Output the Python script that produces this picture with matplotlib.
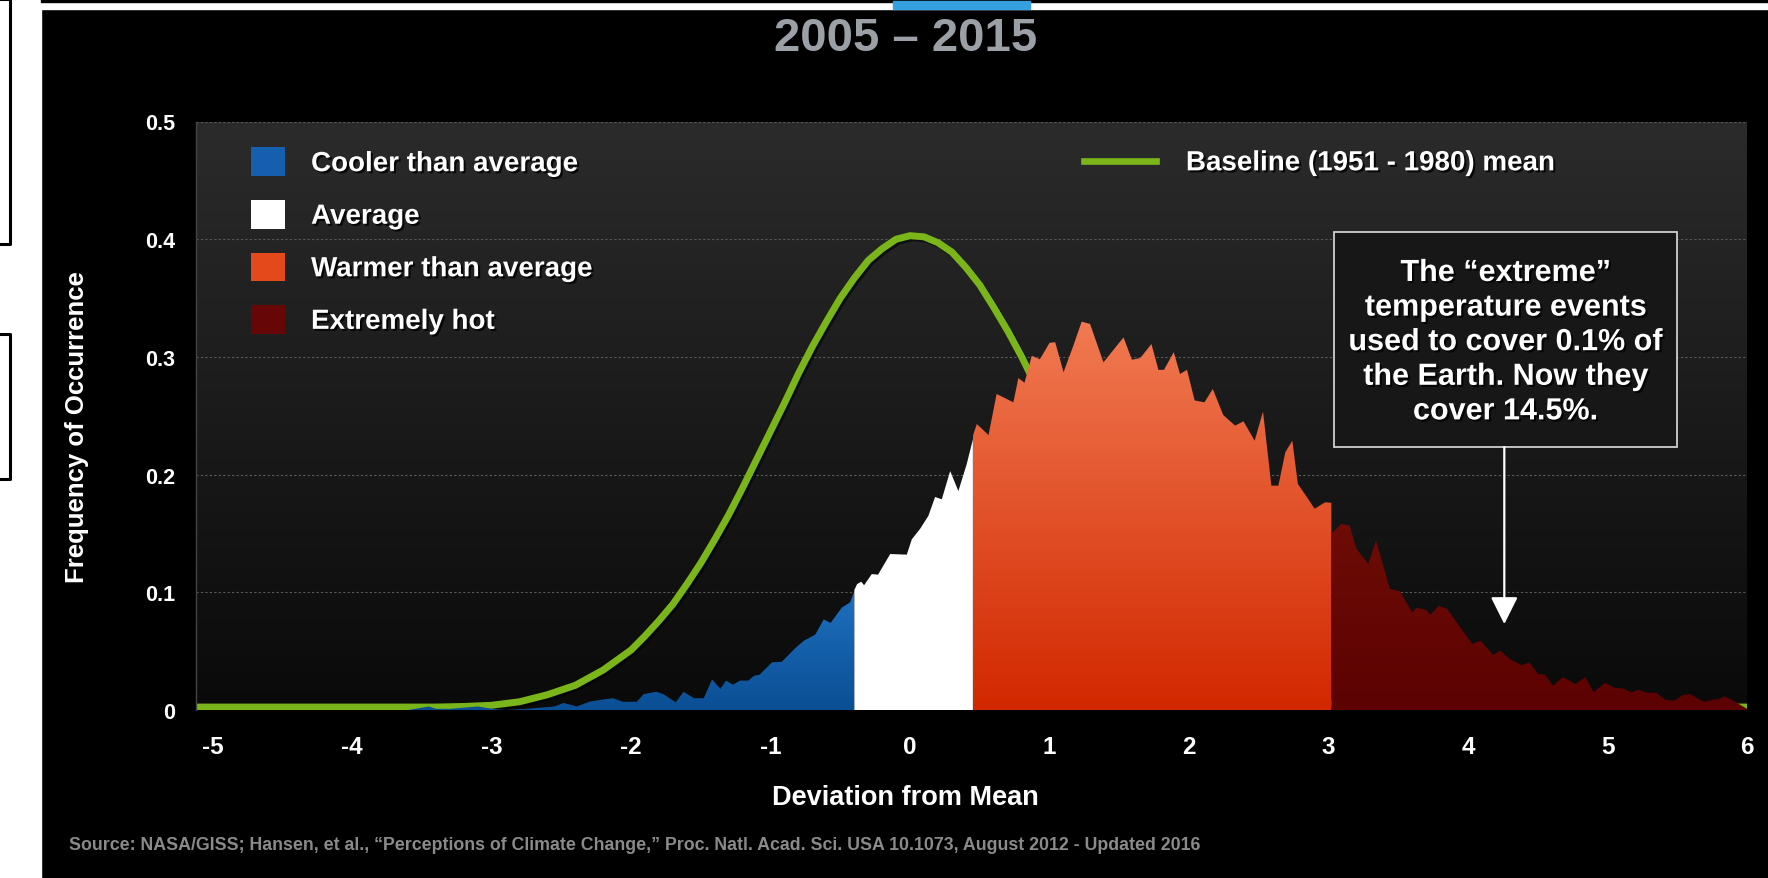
import numpy as np
import matplotlib
matplotlib.use("Agg")
import matplotlib.pyplot as plt
from matplotlib.colors import LinearSegmentedColormap
from matplotlib.patches import Patch, Rectangle
from matplotlib.lines import Line2D
import matplotlib.patheffects as pe

plt.rcParams['font.family'] = ['Liberation Sans', 'DejaVu Sans']
plt.rcParams['font.weight'] = 'bold'

# ---- data ----
# 2005-2015 distribution, split in four classes
cool_x = [-5.12, -3.6, -3.5, -3.45, -3.4, -3.3, -3.2, -3.1, -3.0, -2.9, -2.75, -2.65, -2.55,
          -2.485, -2.39, -2.30, -2.20, -2.13, -2.06, -1.96, -1.91, -1.82, -1.77, -1.68, -1.625,
          -1.55, -1.48, -1.42, -1.36, -1.32, -1.27, -1.22, -1.16, -1.12, -1.08, -0.99, -0.92,
          -0.82, -0.76, -0.68, -0.62, -0.57, -0.49, -0.43, -0.40]
cool_y = [0, 0, 0.002, 0.003, 0.001, 0.001, 0.002, 0.003, 0.001, 0, 0.001, 0.002, 0.003,
          0.006, 0.003, 0.007, 0.009, 0.010, 0.007, 0.007, 0.0135, 0.0155, 0.0135, 0.0065, 0.0155,
          0.010, 0.010, 0.026, 0.018, 0.025, 0.0215, 0.025, 0.025, 0.029, 0.030, 0.0405, 0.041,
          0.053, 0.059, 0.064, 0.077, 0.074, 0.087, 0.0915, 0.101]

avg_x = [-0.40, -0.38, -0.35, -0.33, -0.275, -0.23, -0.143, -0.024, 0.012, 0.072, 0.131,
         0.179, 0.227, 0.287, 0.346, 0.406, 0.45]
avg_y = [0.102, 0.107, 0.109, 0.106, 0.1155, 0.115, 0.1325, 0.132, 0.145, 0.154, 0.165,
         0.181, 0.179, 0.203, 0.186, 0.209, 0.230]

warm_x = [0.45, 0.478, 0.562, 0.62, 0.74, 0.776, 0.82, 0.872, 0.93, 1.00, 1.04, 1.10, 1.17,
          1.23, 1.29, 1.386, 1.53, 1.59, 1.65, 1.73, 1.78, 1.82, 1.89, 1.935, 1.985, 2.04,
          2.11, 2.17, 2.245, 2.33, 2.39, 2.47, 2.53, 2.59, 2.64, 2.69, 2.74, 2.78, 2.85, 2.90,
          2.975, 3.02]
warm_y = [0.233, 0.243, 0.2336, 0.2685, 0.2614, 0.282, 0.278, 0.301, 0.298, 0.312, 0.3125,
          0.287, 0.3095, 0.330, 0.328, 0.2954, 0.3166, 0.2976, 0.299, 0.311, 0.289, 0.289,
          0.304, 0.2855, 0.289, 0.263, 0.2614, 0.2727, 0.2506, 0.2416, 0.2453, 0.2288, 0.2535,
          0.1906, 0.1906, 0.219, 0.2288, 0.192, 0.180, 0.171, 0.1765, 0.176]

hot_x = [3.02, 3.03, 3.09, 3.15, 3.20, 3.285, 3.34, 3.44, 3.51, 3.60, 3.63, 3.70, 3.73, 3.79,
         3.85, 4.03, 4.09, 4.18, 4.23, 4.30, 4.385, 4.44, 4.50, 4.55, 4.61, 4.68, 4.77, 4.84,
         4.90, 4.98, 5.05, 5.12, 5.17, 5.22, 5.28, 5.35, 5.41, 5.48, 5.54, 5.59, 5.69, 5.76,
         5.80, 5.84, 5.90, 6.0]
hot_y = [0.151, 0.151, 0.158, 0.157, 0.137, 0.124, 0.144, 0.103, 0.101, 0.083, 0.087, 0.085,
         0.081, 0.0886, 0.086, 0.056, 0.059, 0.0467, 0.0504, 0.0433, 0.038, 0.0405, 0.0306,
         0.030, 0.0207, 0.028, 0.022, 0.028, 0.015, 0.023, 0.019, 0.018, 0.015, 0.0173, 0.0147,
         0.0147, 0.0088, 0.008, 0.0127, 0.0136, 0.007, 0.0088, 0.0093, 0.0116, 0.008, 0.001]

# baseline (1951-1980) curve
base_x = [-5.12, -4.0, -3.4, -3.2, -3.0, -2.8, -2.6, -2.4, -2.2, -2.0, -1.9, -1.8, -1.7, -1.6,
          -1.5, -1.4, -1.3, -1.2, -1.1, -1.0, -0.9, -0.8, -0.7, -0.6, -0.5, -0.4, -0.3, -0.2,
          -0.1, 0.0, 0.1, 0.2, 0.3, 0.4, 0.5, 0.6, 0.7, 0.8, 0.9, 1.0, 1.1, 1.2, 1.3, 1.4, 1.6,
          1.8, 2.0, 2.4, 2.8, 3.2, 4.0, 6.0]
base_y = [0.0025, 0.0025, 0.0025, 0.003, 0.004, 0.007, 0.013, 0.021, 0.034, 0.051, 0.063,
          0.076, 0.090, 0.107, 0.125, 0.145, 0.166, 0.189, 0.213, 0.237, 0.261, 0.286, 0.309,
          0.330, 0.350, 0.367, 0.382, 0.392, 0.400, 0.403, 0.402, 0.397, 0.389, 0.376, 0.361,
          0.342, 0.322, 0.300, 0.276, 0.252, 0.227, 0.203, 0.180, 0.158, 0.117, 0.084, 0.058,
          0.024, 0.009, 0.003, 0.0025, 0.0025]

xticks = [-5, -4, -3, -2, -1, 0, 1, 2, 3, 4, 5, 6]
yticks = [0, 0.1, 0.2, 0.3, 0.4, 0.5]
ytick_labels = ['0', '0.1', '0.2', '0.3', '0.4', '0.5']
labels = ['Cooler than average', 'Average', 'Warmer than average', 'Extremely hot']
note = 'The \u201cextreme\u201d\ntemperature events\nused to cover 0.1% of\nthe Earth. Now they\ncover 14.5%.'
note_x = 4.26
note_tip = 0.073

GREEN = '#7ab51a'

W, H = 1768, 879
fig = plt.figure(figsize=(W / 100, H / 100), dpi=100, facecolor='black')

# slide-like surroundings
fig.add_artist(Rectangle((0, 0), 41 / W, 1, transform=fig.transFigure, color='white', zorder=-5))
fig.add_artist(Rectangle((0, 1 - 10 / H), 1, 10 / H, transform=fig.transFigure, color='white', zorder=-5))
fig.add_artist(Rectangle((41 / W, 1 - 3 / H), 1, 3 / H, transform=fig.transFigure, color='black', zorder=-4))
fig.add_artist(Rectangle((893 / W, 1 - 10 / H), 137 / W, 8 / H, transform=fig.transFigure,
                         color='#35a0e0', zorder=-3))
for (y0, y1) in [(0, 245), (335, 480)]:
    fig.add_artist(Line2D([0, 10 / W, 10 / W, 0], [1 - y0 / H, 1 - y0 / H, 1 - y1 / H, 1 - y1 / H],
                          transform=fig.transFigure, color='black', lw=2.2))

ax = fig.add_axes([196 / W, 1 - 711 / H, 1551 / W, 588.5 / H])
ax.set_facecolor('#111111')

# panel gradient background
bg = LinearSegmentedColormap.from_list('bg', ['#0a0a0a', '#2b2b2b'])
ax.imshow(np.linspace(0, 1, 256).reshape(-1, 1), cmap=bg, origin='lower', aspect='auto',
          extent=[0, 1, 0, 1], transform=ax.transAxes, zorder=0)


def grad_fill(x, y, c_bot, c_top, ytop):
    poly = ax.fill_between(x, 0, y, facecolor='none', edgecolor='none', zorder=2)
    cm = LinearSegmentedColormap.from_list('g', [c_bot, c_top])
    im = ax.imshow(np.linspace(0, 1, 256).reshape(-1, 1), cmap=cm, origin='lower', aspect='auto',
                   extent=[min(x), max(x), 0, ytop], zorder=2)
    im.set_clip_path(poly.get_paths()[0], transform=ax.transData)


ax.plot(base_x, base_y, color=GREEN, lw=5.0, solid_capstyle='butt', solid_joinstyle='round',
        zorder=1.5,
        path_effects=[pe.SimpleLineShadow(offset=(1.5, -1.5), shadow_color='black', alpha=0.6),
                      pe.Normal()])

grad_fill(cool_x, cool_y, '#0a4f94', '#1f6fbf', 0.10)
ax.fill_between(avg_x, 0, avg_y, facecolor='white', edgecolor='none', zorder=2)
grad_fill(warm_x, warm_y, '#d22800', '#f17a52', 0.33)
grad_fill(hot_x, hot_y, '#5c0202', '#6e0c06', 0.16)

ax.set_xlim(-5.12, 6.0)
ax.set_ylim(0, 0.5)
ax.set_xticks(xticks)
ax.set_xticklabels([str(t) for t in xticks])
ax.set_yticks(yticks)
ax.set_yticklabels(ytick_labels)
ax.tick_params(axis='both', length=0, colors='white')
ax.tick_params(axis='x', pad=18, labelsize=17.5)
ax.tick_params(axis='y', pad=15, labelsize=15.5)
ax.yaxis.grid(True, color='#5a5a5a', linestyle=(0, (2, 2)), linewidth=0.8)
ax.set_axisbelow(True)
for s in ['top', 'right', 'bottom']:
    ax.spines[s].set_visible(False)
ax.spines['left'].set_color('#444444')
ax.spines['left'].set_linewidth(1.0)

ax.set_xlabel('Deviation from Mean', color='white', fontsize=19.5, fontweight='bold')
ax.xaxis.label.set_va('center')
ax.xaxis.set_label_coords((905 - 196) / 1551, (711 - 798) / 588.5)
ax.set_ylabel('Frequency of Occurrence', color='white', fontsize=18.5, fontweight='bold')
ax.yaxis.label.set_va('center')
ax.yaxis.set_label_coords((77 - 196) / 1551, (711 - 427) / 588.5)

shadow = [pe.withSimplePatchShadow(offset=(1.5, -1.5), shadow_rgbFace='black', alpha=0.8)]

# legends
cols = ['#155fae', 'white', '#e4491c', '#660606']
handles = [Patch(facecolor=c, edgecolor='none') for c in cols]
leg1 = ax.legend(handles, labels, loc='upper left', bbox_to_anchor=(0.0353, 0.956),
                 frameon=False, borderpad=0, borderaxespad=0, handlelength=1.25,
                 handleheight=1.22, handletextpad=0.92, labelspacing=0.82,
                 prop=dict(weight='bold', size=20), labelcolor='white')
for t in leg1.get_texts():
    t.set_path_effects(shadow)
ax.add_artist(leg1)
leg2 = ax.legend([Line2D([0], [0], color=GREEN, lw=4.8)], ['Baseline (1951 - 1980) mean'],
                 loc='upper left', bbox_to_anchor=(0.5727, 0.951), frameon=False, borderpad=0,
                 borderaxespad=0, handlelength=2.58, handletextpad=1.08,
                 prop=dict(weight='bold', size=20), labelcolor='white')
for t in leg2.get_texts():
    t.set_path_effects(shadow)

# annotation box + arrow
ax.add_patch(Rectangle((3.04, 0.2234), 2.46, 0.1826, facecolor='#171717', edgecolor='#cfcfcf',
                       lw=1.3, zorder=4))
ax.text(4.27, 0.3125, note, ha='center', va='center', color='white', fontsize=22,
        fontweight='bold', linespacing=1.2, zorder=5, path_effects=shadow)
ax.annotate('', xy=(note_x, note_tip), xytext=(note_x, 0.2234), zorder=5,
            arrowprops=dict(arrowstyle='-|>,head_length=0.7,head_width=0.35', color='white',
                            lw=1.6, mutation_scale=24, shrinkA=0, shrinkB=0))

fig.text(906 / W, 1 - 39 / H, '2005 \u2013 2015', ha='center', va='center', color='#9aa0a6',
         fontsize=34, fontweight='bold')
fig.text(69 / W, 1 - 846 / H,
         'Source: NASA/GISS; Hansen, et al., \u201cPerceptions of Climate Change,\u201d Proc. Natl. '
         'Acad. Sci. USA 10.1073, August 2012 - Updated 2016',
         ha='left', va='center', color='#8a8a8a', fontsize=12.8, fontweight='bold')

fig.savefig('out.png', dpi=100, facecolor='black')
